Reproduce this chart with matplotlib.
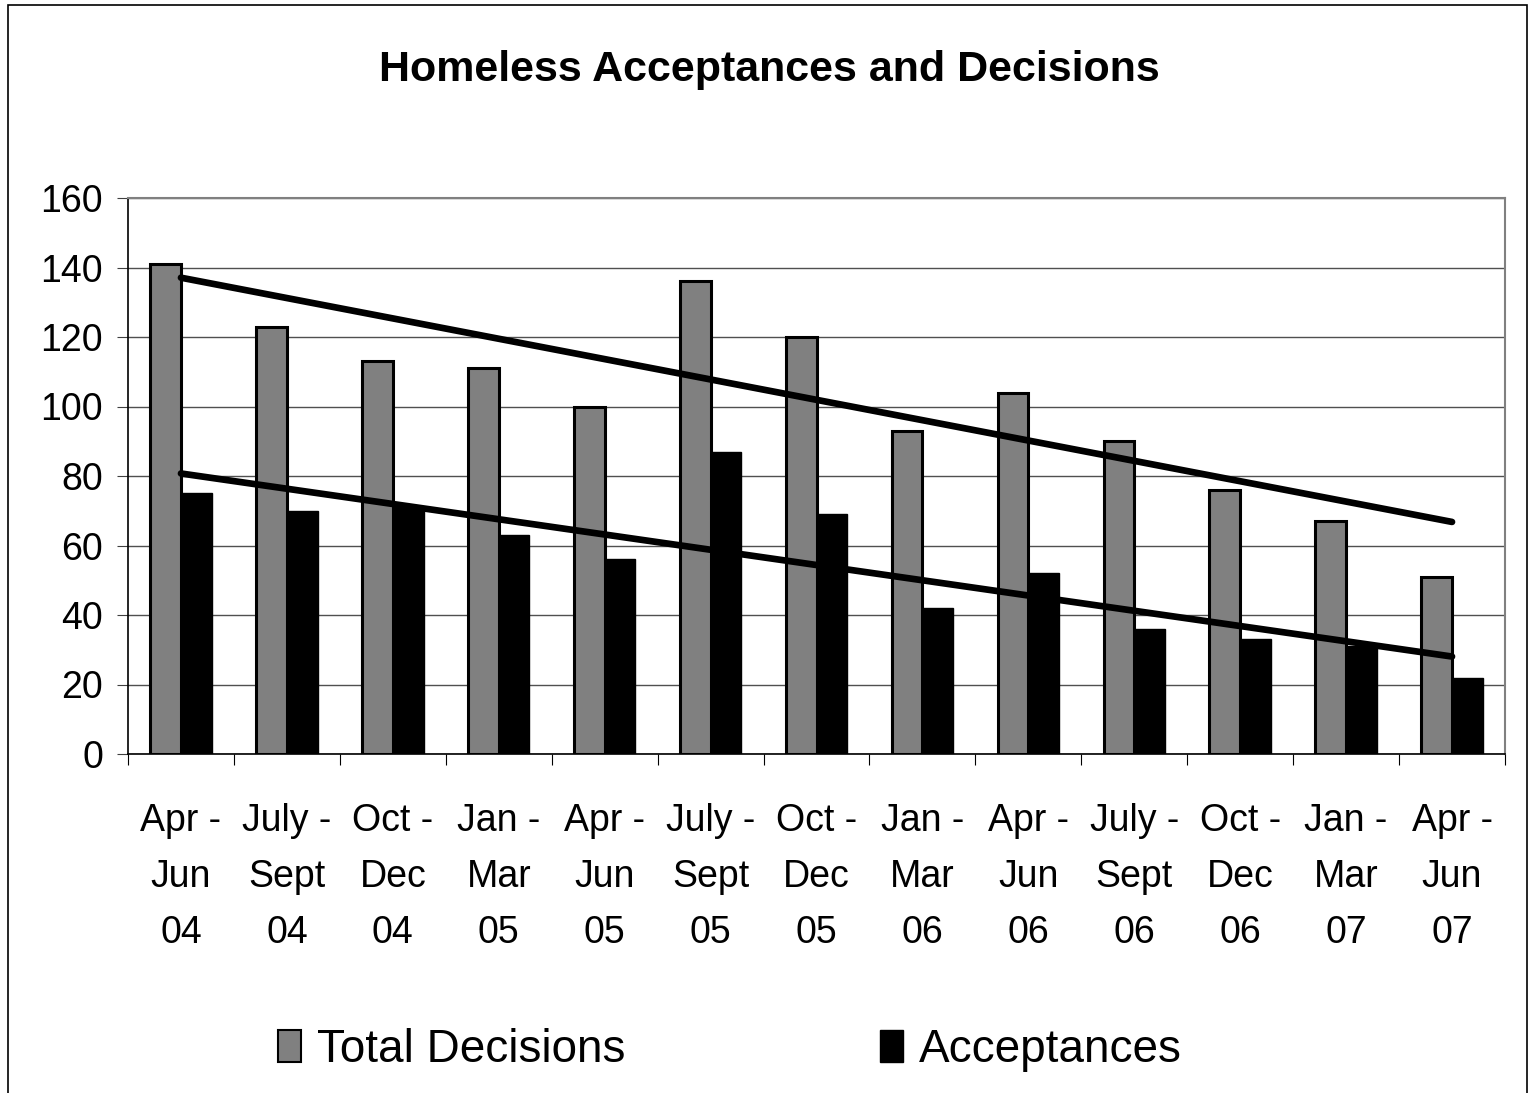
import matplotlib
matplotlib.use("Agg")
import matplotlib.pyplot as plt
import numpy as np
from matplotlib.patches import Rectangle, Patch

# quarter labels
periods = ["Apr -\nJun\n04", "July -\nSept\n04", "Oct -\nDec\n04", "Jan -\nMar\n05",
           "Apr -\nJun\n05", "July -\nSept\n05", "Oct -\nDec\n05", "Jan -\nMar\n06",
           "Apr -\nJun\n06", "July -\nSept\n06", "Oct -\nDec\n06", "Jan -\nMar\n07",
           "Apr -\nJun\n07"]
total_decisions = [141, 123, 113, 111, 100, 136, 120, 93, 104, 90, 76, 67, 51]
acceptances = [75, 70, 71, 63, 56, 87, 69, 42, 52, 36, 33, 31, 22]
y_ticks = [0, 20, 40, 60, 80, 100, 120, 140, 160]

plt.rcParams['font.family'] = ['Liberation Sans Narrow', 'Liberation Sans', 'DejaVu Sans']

fig = plt.figure(figsize=(15.3, 10.93), dpi=100)
ax = fig.add_axes([128/1530, 1-754/1093, (1505-128)/1530, (754-198)/1093])

x = np.arange(len(periods))
w = 0.29
ax.bar(x - w/2, total_decisions, w, color='#808080', edgecolor='black', linewidth=2.2,
       zorder=3, label='Total Decisions')
ax.bar(x + w/2, acceptances, w, color='black', edgecolor='black', linewidth=1.0,
       zorder=3, label='Acceptances')

# linear trend lines
for series in (total_decisions, acceptances):
    k, b = np.polyfit(x, series, 1)
    ax.plot(x, k*x + b, color='black', lw=4.8, solid_capstyle='round', zorder=4)

ax.set_xlim(-0.5, len(periods) - 0.5)
ax.set_ylim(0, 160)
ax.set_yticks(y_ticks)
ax.set_yticklabels([str(v) for v in y_ticks], fontsize=27)
ax.yaxis.grid(True, color='#505050', lw=1.0, zorder=0)
ax.set_axisbelow(True)

ax.set_xticks(np.arange(-0.5, len(periods), 1.0))
ax.set_xticklabels([])
ax.set_xticks(x, minor=True)
ax.set_xticklabels(periods, minor=True, fontsize=27, linespacing=1.72)
ax.tick_params(axis='x', which='major', length=8, direction='out', color='black')
ax.tick_params(axis='x', which='minor', length=0, pad=35)
ax.tick_params(axis='y', length=8, direction='out', pad=10, color='#404040')

for s in ('top', 'right'):
    ax.spines[s].set_color('#808080')
    ax.spines[s].set_linewidth(1.5)
for s in ('left', 'bottom'):
    ax.spines[s].set_color('black')
    ax.spines[s].set_linewidth(1.2)

fig.text(0.503, 1-70/1093, "Homeless Acceptances and Decisions", ha='center', va='center',
         fontsize=31, fontweight='bold')

handles = [Patch(facecolor='#808080', edgecolor='black', lw=1.5),
           Patch(facecolor='black', edgecolor='black')]
fig.legend(handles, ['Total Decisions', 'Acceptances'], loc='center',
           bbox_to_anchor=(0.477, 1-1050/1093), ncol=2, frameon=False, fontsize=33,
           handlelength=0.5, handleheight=0.7, handletextpad=0.35, columnspacing=5.55)

fig.patches.append(Rectangle((8/1530, -0.01), 1519/1530, 1-5/1093 + 0.01,
                             transform=fig.transFigure, fill=False, edgecolor='black', lw=1.2))

fig.savefig("out.png", dpi=100)
